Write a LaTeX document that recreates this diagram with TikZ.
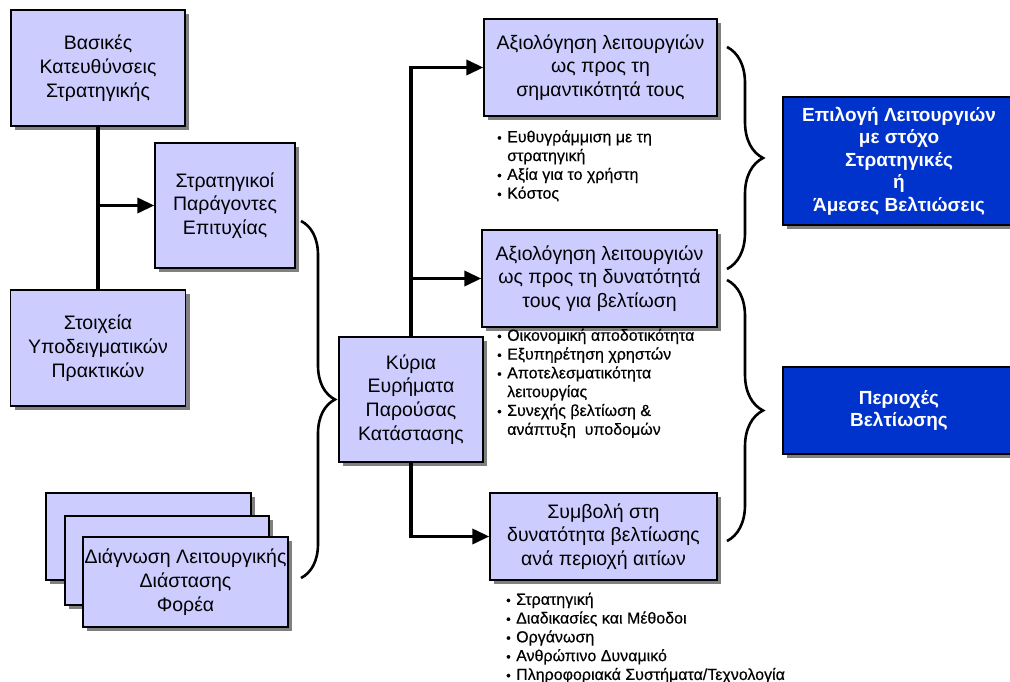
\documentclass[tikz,border=0pt]{standalone}
\usepackage{fontspec}
\setmainfont{Liberation Sans}
\newfontfamily\listfont[FakeBold=0.4]{Liberation Sans}
\usetikzlibrary{arrows.meta,shadows,decorations.pathreplacing}
\definecolor{boxfill}{RGB}{204,204,255}
\definecolor{deepblue}{RGB}{0,51,204}
\definecolor{shade}{RGB}{128,128,128}
\newcommand{\itm}{\makebox[10pt][l]{\fontsize{13}{13}\selectfont•}}
\newcommand{\cnt}{\makebox[10pt][l]{}}
\begin{document}
\begin{tikzpicture}[x=1pt,y=-1pt,
  box/.style={draw=black, line width=1.3pt, fill=boxfill, align=center,
    inner sep=0pt, font=\fontsize{19.5}{23.8}\selectfont,
    general shadow={fill=shade, shadow xshift=4pt, shadow yshift=-4pt}},
  result/.style={box, fill=deepblue, text=white,
    font=\bfseries\fontsize{19}{22.5}\selectfont},
  bul/.style={align=left, inner sep=0pt, anchor=north west,
    font=\listfont\fontsize{16}{18.8}\selectfont},
  link/.style={line width=3.5pt},
  arr/.style={link, -{Triangle[length=17pt,width=15pt]}},
  brace/.style={line width=2.6pt, decorate,
    decoration={brace, amplitude=#1}}
]
\useasboundingbox (0,0) rectangle (1010,682);
\clip (0,0) rectangle (1010,682);

% input boxes on the left
\node[box, minimum width=174pt, minimum height=116pt] (b1) at (98,68)
  {Βασικές\\Κατευθύνσεις\\Στρατηγικής};
\node[box, minimum width=140pt, minimum height=125pt] (b2) at (225,205.5)
  {Στρατηγικοί\\Παράγοντες\\Επιτυχίας};
\node[box, minimum width=175pt, minimum height=116pt] (b3) at (98,348)
  {Στοιχεία\\Υποδειγματικών\\Πρακτικών};

% stack of diagnosis sheets
\node[box, minimum width=205pt, minimum height=87pt] (s1) at (148.5,536.5) {};
\node[box, minimum width=204pt, minimum height=89pt] (s2) at (167,560.5) {};
\node[box, minimum width=205pt, minimum height=90pt] (s3) at (185.5,582)
  {Διάγνωση Λειτουργικής\\Διάστασης\\Φορέα};

% central findings
\node[box, minimum width=144pt, minimum height=125pt] (kyria) at (411,399.5)
  {Κύρια\\Ευρήματα\\Παρούσας\\Κατάστασης};

% assessment boxes
\node[box, minimum width=233pt, minimum height=97pt] (a1) at (600.5,67.5)
  {Αξιολόγηση λειτουργιών\\ως προς τη\\σημαντικότητά τους};
\node[box, minimum width=235pt, minimum height=97pt] (a2) at (599.5,278.5)
  {Αξιολόγηση λειτουργιών\\ως προς τη δυνατότητά\\τους για βελτίωση};
\node[box, minimum width=227pt, minimum height=87pt] (a3) at (603.5,536.5)
  {Συμβολή στη\\δυνατότητα βελτίωσης\\ανά περιοχή αιτίων};

% criteria lists
\node[bul] (l1) at (497,130)
  {\itm Ευθυγράμμιση με τη\\\cnt στρατηγική\\\itm Αξία για το χρήστη\\\itm Κόστος};
\node[bul] (l2) at (497,328.5)
  {\itm Οικονομική αποδοτικότητα\\\itm Εξυπηρέτηση χρηστών\\\itm Αποτελεσματικότητα\\\cnt λειτουργίας\\\itm Συνεχής βελτίωση \&\\\cnt ανάπτυξη\ \ υποδομών};
\node[bul] (l3) at (506,592.5)
  {\itm Στρατηγική\\\itm Διαδικασίες και Μέθοδοι\\\itm Οργάνωση\\\itm Ανθρώπινο Δυναμικό\\\itm Πληροφοριακά Συστήματα/Τεχνολογία};

% outcomes
\node[result, minimum width=232pt, minimum height=128pt] (r1) at (899,161)
  {Επιλογή Λειτουργιών\\με στόχο\\Στρατηγικές\\ή\\Άμεσες Βελτιώσεις};
\node[result, minimum width=232pt, minimum height=87pt] (r2) at (899,410.5)
  {Περιοχές\\Βελτίωσης};

% connectors
\draw[link] (b1.south) -- (b3.north);
\draw[arr] (b1.south |- b2.west) -- (b2.west);
\draw[arr] (kyria.north) -- (kyria.north |- a1.west) -- (a1.west);
\draw[arr] (kyria.north |- a2.west) -- (a2.west);
\draw[arr] (kyria.south) -- (kyria.south |- a3.west) -- (a3.west);

% braces
\coordinate (lbTop) at (301,221);
\coordinate (lbBot) at (301,578);
\coordinate (rbTop) at (727,47);
\coordinate (rbMid) at (727,269);
\coordinate (rcTop) at (727,280);
\coordinate (rcBot) at (727,541);
\draw[brace=34pt] (lbTop) -- (lbBot);
\draw[brace=36pt] (rbTop) -- (rbMid);
\draw[brace=36pt] (rcTop) -- (rcBot);
\end{tikzpicture}
\end{document}
